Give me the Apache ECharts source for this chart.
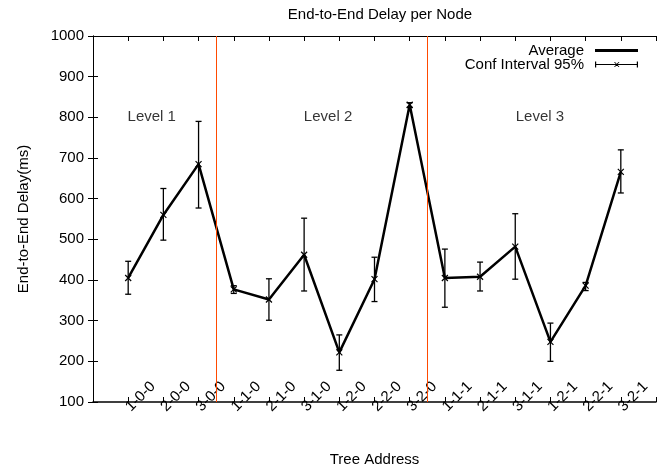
<!DOCTYPE html>
<html lang="en">
<head>
    <meta charset="UTF-8">
    <title>End-to-End Delay per Node</title>
    <style>
        html, body {
            margin: 0;
            padding: 0;
            background: #ffffff;
        }
        #main {
            width: 663px;
            height: 472px;
        }
    </style>
    <script type="text/javascript" src="https://cdn.jsdelivr.net/npm/echarts@6/dist/echarts.min.js"></script>
</head>
<body>
<div id="main"></div>
<script type="text/javascript">
    // tree addresses, one per node (x = 1..15)
    var treeAddress = ["1-0-0", "2-0-0", "3-0-0", "1-1-0", "2-1-0", "3-1-0", "1-2-0", "2-2-0", "3-2-0",
        "1-1-1", "2-1-1", "3-1-1", "1-2-1", "2-2-1", "3-2-1"];
    var avgDelay = [405, 560, 685, 377, 352, 462, 222, 402, 831, 405, 408, 482, 248, 386, 666];
    var ciLow = [365, 498, 577, 367, 301, 373, 178, 347, 824, 333, 373, 402, 200, 374, 614];
    var ciHigh = [446, 625, 790, 386, 403, 552, 265, 456, 836, 476, 444, 563, 294, 394, 720];
    var yTicks = [100, 1000, 100]; // min, max, step
    var levelNames = ["Level 1", "Level 2", "Level 3"];
    var levelX = [1.67, 6.68, 12.7];
    var levelY = [800, 800, 800];
    var levelBorders = [3.5, 9.5];

    var font = "'Liberation Sans', Arial, Helvetica, sans-serif";
    var chart = echarts.init(document.getElementById('main'));

    var avgData = [], errData = [], levelData = [];
    for (var i = 0; i < avgDelay.length; i++) {
        avgData.push([i + 1, avgDelay[i]]);
        errData.push([i + 1, ciLow[i], ciHigh[i]]);
    }
    for (var j = 0; j < levelNames.length; j++) {
        levelData.push([levelX[j], levelY[j], levelNames[j]]);
    }

    var xMark = 'path://M0,0L10,10M10,0L0,10';
    var avgIcon = 'path://M0,0M49,10M6,3.5L49,3.5L49,6.5L6,6.5Z';
    var ciIcon = 'path://M0,0M49,10M6,4.4L49,4.4L49,5.6L6,5.6Z' +
        'M6,2L7.2,2L7.2,8L6,8Z M47.8,2L49,2L49,8L47.8,8Z' +
        'M25,2.5L26,2.5L30.5,7.5L29.5,7.5Z M29.5,2.5L30.5,2.5L26,7.5L25,7.5Z';

    function errorBar(params, api) {
        var x = api.value(0);
        var lo = api.coord([x, api.value(1)]);
        var hi = api.coord([x, api.value(2)]);
        var cap = 3;
        var style = {stroke: '#000', lineWidth: 1.3};
        return {
            type: 'group',
            children: [
                {type: 'line', shape: {x1: lo[0], y1: lo[1], x2: hi[0], y2: hi[1]}, style: style},
                {type: 'line', shape: {x1: lo[0] - cap, y1: lo[1], x2: lo[0] + cap, y2: lo[1]}, style: style},
                {type: 'line', shape: {x1: hi[0] - cap, y1: hi[1], x2: hi[0] + cap, y2: hi[1]}, style: style}
            ]
        };
    }

    var option = {
        animation: false,
        textStyle: {fontFamily: font},
        title: {
            text: 'End-to-End Delay per Node',
            left: 375,
            textAlign: 'center',
            top: 2,
            textStyle: {fontSize: 15, fontWeight: 'normal', color: '#000', fontFamily: font}
        },
        legend: [{
            data: [{name: 'Average', icon: avgIcon, itemStyle: {borderWidth: 0}}],
            right: 20,
            top: 38,
            align: 'right',
            itemWidth: 49,
            itemHeight: 10,
            selectedMode: false,
            textStyle: {fontSize: 15, color: '#000', fontFamily: font}
        }, {
            data: [{name: 'Conf Interval 95%', icon: ciIcon, itemStyle: {borderWidth: 0}}],
            right: 20,
            top: 52,
            align: 'right',
            itemWidth: 49,
            itemHeight: 10,
            selectedMode: false,
            textStyle: {fontSize: 15, color: '#000', fontFamily: font}
        }],
        grid: {left: 93, right: 7, top: 36, bottom: 64},
        xAxis: [{
            type: 'value',
            min: 0,
            max: 16,
            interval: 1,
            name: 'Tree Address',
            nameLocation: 'middle',
            nameGap: 50,
            nameTextStyle: {fontSize: 15, color: '#000', fontFamily: font},
            axisLine: {lineStyle: {color: '#000', width: 1.5}},
            axisTick: {inside: true, length: 5, lineStyle: {color: '#000'}},
            splitLine: {show: false},
            axisLabel: {
                rotate: 45,
                align: 'left',
                verticalAlign: 'middle',
                margin: 7,
                fontSize: 15,
                color: '#000',
                fontFamily: font,
                formatter: function (v) {
                    return treeAddress[v - 1] || '';
                }
            }
        }, {
            type: 'value',
            position: 'top',
            min: 0,
            max: 16,
            interval: 1,
            axisLine: {lineStyle: {color: '#000', width: 1}},
            axisTick: {inside: true, length: 5, lineStyle: {color: '#000'}},
            axisLabel: {show: false},
            splitLine: {show: false}
        }],
        yAxis: [{
            type: 'value',
            min: yTicks[0],
            max: yTicks[1],
            interval: yTicks[2],
            name: 'End-to-End Delay(ms)',
            nameLocation: 'middle',
            nameGap: 62,
            nameTextStyle: {fontSize: 15, color: '#000', fontFamily: font},
            axisLine: {show: true, lineStyle: {color: '#000', width: 1}},
            axisTick: {show: true, inside: true, length: 5, lineStyle: {color: '#000'}},
            axisLabel: {
                margin: 9, fontSize: 15, color: '#000', fontFamily: font,
                formatter: function (v) {
                    return String(v);
                }
            },
            splitLine: {show: false}
        }, {
            type: 'value',
            position: 'right',
            min: yTicks[0],
            max: yTicks[1],
            interval: yTicks[2],
            axisLine: {show: true, lineStyle: {color: '#000', width: 1}},
            axisTick: {show: true, inside: true, length: 5, lineStyle: {color: '#000'}},
            axisLabel: {show: false},
            splitLine: {show: false}
        }],
        series: [{
            name: 'Average',
            type: 'line',
            data: avgData,
            symbol: xMark,
            symbolSize: 6,
            itemStyle: {color: '#000', borderColor: '#000', borderWidth: 1.2},
            lineStyle: {color: '#000', width: 2.5},
            z: 3,
            markLine: {
                silent: true,
                symbol: 'none',
                label: {show: false},
                lineStyle: {color: '#ff4a00', type: 'solid', width: 1},
                data: levelBorders.map(function (b) {
                    return {xAxis: b};
                })
            }
        }, {
            name: 'Conf Interval 95%',
            type: 'custom',
            data: errData,
            itemStyle: {color: '#000'},
            renderItem: errorBar,
            z: 4
        }, {
            name: 'levels',
            type: 'scatter',
            data: levelData,
            symbolSize: 1,
            itemStyle: {color: 'rgba(0,0,0,0)'},
            label: {
                show: true,
                position: 'inside',
                fontSize: 15,
                color: '#000',
                fontFamily: font,
                formatter: function (p) {
                    return p.value[2];
                }
            }
        }]
    };
    chart.setOption(option);
</script>
</body>
</html>
